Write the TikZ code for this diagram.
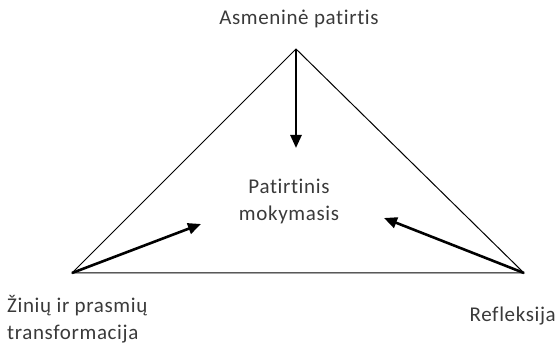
\documentclass[tikz,border=0pt]{standalone}
\usepackage{fontspec}
\setmainfont[Ligatures=NoCommon, LetterSpace=3]{Carlito}
\usetikzlibrary{arrows.meta}
\definecolor{txtgray}{HTML}{3A3A3A}
\tikzset{
  lbl/.style={text=txtgray, font=\fontsize{21}{27}\selectfont, inner sep=0pt},
  edge/.style={line width=1pt},
  push/.style={line width=2.6pt, -{Triangle[length=13pt,width=11pt]}}
}
\begin{document}
\begin{tikzpicture}[x=1pt,y=-1pt]
\useasboundingbox (0,0) rectangle (558,344);
% corners of the triangle
\coordinate (apex) at (296,49);
\coordinate (lc) at (72,273);
\coordinate (rc) at (524,273);
\draw[edge] (apex) -- (lc) -- (rc) -- cycle;

% labels
\node[lbl] (exp) at (299,19) {Asmeninė patirtis};
\node[lbl, align=center] (learn) at (289,201) {Patirtinis\\mokymasis};
\node[lbl, align=left, anchor=west] (trans) at (7,319) {Žinių ir prasmių\\transformacija};
\node[lbl, anchor=east] (refl) at (556,316) {Refleksija};

% arrows towards the centre
\coordinate (tipa) at (296,148);
\coordinate (tipl) at (201,224);
\coordinate (tipr) at (384,218);
\draw[push] (apex) -- (tipa);
\draw[push] (lc) -- (tipl);
\draw[push] (rc) -- (tipr);
\end{tikzpicture}
\end{document}
